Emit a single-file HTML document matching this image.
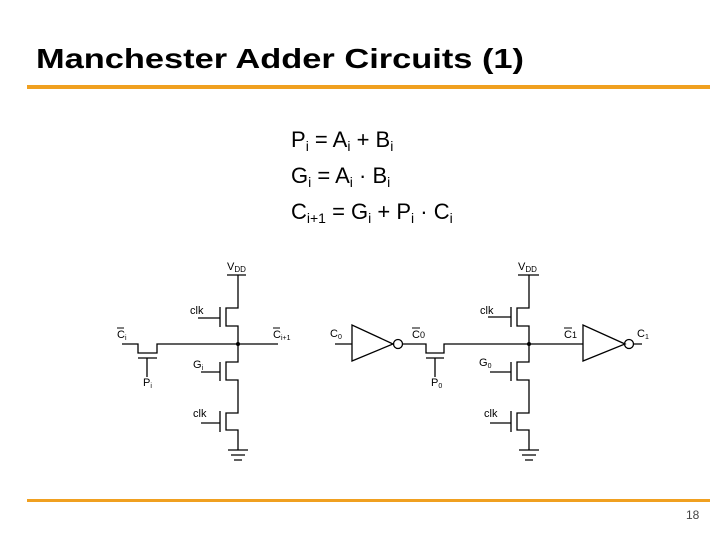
<!DOCTYPE html>
<html><head><meta charset="utf-8"><style>
body{margin:0;width:720px;height:540px;background:#fff;overflow:hidden;font-family:"Liberation Sans",sans-serif}
</style></head><body>
<svg width="720" height="540" xmlns="http://www.w3.org/2000/svg" font-family="Liberation Sans, sans-serif">
<text x="36" y="68" font-size="28" font-weight="bold" textLength="488" lengthAdjust="spacingAndGlyphs">Manchester Adder Circuits (1)</text>
<rect x="27" y="85" width="683" height="4" fill="#f0a020"/>
<rect x="27" y="499" width="683" height="3" fill="#f0a020"/>
<text x="686" y="519" font-size="12" fill="#444">18</text>
<g font-size="22">
<text x="291" y="147">P<tspan font-size="14" dy="4">i</tspan><tspan dy="-4"> = A</tspan><tspan font-size="14" dy="4">i</tspan><tspan dy="-4"> + B</tspan><tspan font-size="14" dy="4">i</tspan></text>
<text x="291" y="183">G<tspan font-size="14" dy="4">i</tspan><tspan dy="-4"> = A</tspan><tspan font-size="14" dy="4">i</tspan><tspan dy="-4"> · B</tspan><tspan font-size="14" dy="4">i</tspan></text>
<text x="291" y="219">C<tspan font-size="14" dy="4">i+1</tspan><tspan dy="-4"> = G</tspan><tspan font-size="14" dy="4">i</tspan><tspan dy="-4"> + P</tspan><tspan font-size="14" dy="4">i</tspan><tspan dy="-4"> · C</tspan><tspan font-size="14" dy="4">i</tspan></text>
</g>
<g stroke="#000" stroke-width="1.3" fill="none">
<path d="M227 275H246M238 275V308H226V326H238V362H226V380H238V413H226V430H238V450"/>
<path d="M220 307V327M198 318H220M220 362V381M201 372H220M220 411V432M201 423H220"/>
<path d="M228 450H248M231 455H245M234 460H242"/>
<path d="M122 344H138V353H157V344H278M138 358H157M147 358V377"/>
<path d="M518 275H539M529 275V308H517V326H529V362H517V380H529V413H517V430H529V450"/>
<path d="M511 307V327M488 317H511M511 362V381M490 372H511M511 411V432M490 423H511"/>
<path d="M519 450H539M522 455H536M525 460H533"/>
<path d="M335 344H352M352 325V361L393 344Z M403 344H426V353H444V344H583M426 358H444M435 358V377"/>
<path d="M583 325V361L625 344Z M634 344H642"/>
<circle cx="398" cy="344" r="4.5"/><circle cx="629" cy="344" r="4.5"/>
</g>
<circle cx="238" cy="344" r="2"/><circle cx="529" cy="344" r="2"/>
<g font-size="11">
<text x="227" y="270">V<tspan font-size="8" dy="2">DD</tspan></text>
<text x="518" y="270">V<tspan font-size="8" dy="2">DD</tspan></text>
<text x="190" y="314">clk</text><text x="193" y="368">G<tspan font-size="7" dy="2">i</tspan></text><text x="193" y="417">clk</text>
<text x="117" y="338">C<tspan font-size="7" dy="2">i</tspan></text><path d="M117 328h7" stroke="#000"/>
<text x="273" y="338">C<tspan font-size="7" dy="2">i+1</tspan></text><path d="M273 328h7" stroke="#000"/>
<text x="143" y="386">P<tspan font-size="7" dy="2">i</tspan></text>
<text x="480" y="314">clk</text><text x="479" y="366">G<tspan font-size="7" dy="2">0</tspan></text><text x="484" y="417">clk</text>
<text x="330" y="337">C<tspan font-size="7" dy="2">0</tspan></text>
<text x="412" y="338">C<tspan font-size="9">0</tspan></text><path d="M412 328h8" stroke="#000"/>
<text x="431" y="386">P<tspan font-size="7" dy="2">0</tspan></text>
<text x="564" y="338">C<tspan font-size="9">1</tspan></text><path d="M564 328h8" stroke="#000"/>
<text x="637" y="337">C<tspan font-size="7" dy="2">1</tspan></text>
</g>
</svg>
</body></html>
